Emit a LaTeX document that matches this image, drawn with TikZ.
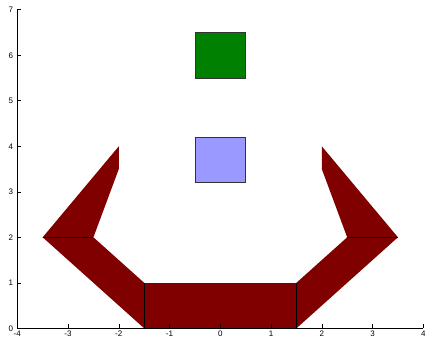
\documentclass[tikz,border=0pt]{standalone}
\usepackage{fontspec}
\setmainfont{Liberation Sans}
\definecolor{darkred}{rgb}{0.5,0,0}
\definecolor{mgreen}{rgb}{0,0.5,0}
\definecolor{mblue}{rgb}{0.6,0.6,1}
\tikzset{
  piece/.style={fill=darkred, draw=none},
  seam/.style={draw=black, line width=0.7pt},
  sq/.style={draw=black!80, line width=0.8pt},
  axisline/.style={draw=black, line width=0.8pt},
  tick/.style={draw=black, line width=0.6pt},
  ticklab/.style={font=\fontsize{8}{9}\selectfont, inner sep=0pt}
}
\begin{document}
\begin{tikzpicture}[x=1pt,y=1pt]
\useasboundingbox (0,0) rectangle (425,343);
\begin{scope}[shift={(220.3,14.7)}, x=50.75pt, y=45.5pt]
  % pieces
  \fill[piece] (-1.5,0) rectangle (1.5,1);
  \fill[piece] (-1.5,0) -- (-1.5,1) -- (-2.5,2) -- (-3.5,2) -- cycle;
  \fill[piece] (-3.5,2) -- (-2.5,2) -- (-2,3.5) -- (-2,4) -- cycle;
  \fill[piece] (1.5,0) -- (1.5,1) -- (2.5,2) -- (3.5,2) -- cycle;
  \fill[piece] (3.5,2) -- (2.5,2) -- (2,3.5) -- (2,4) -- cycle;
  \coordinate (la) at (-3.5,2); \coordinate (lb) at (-2.5,2);
  \coordinate (ra) at (3.5,2); \coordinate (rb) at (2.5,2);
  \coordinate (lc) at (-1.5,0); \coordinate (ld) at (-1.5,1);
  \coordinate (rc) at (1.5,0); \coordinate (rd) at (1.5,1);
  \draw[seam] (la) -- (lb);
  \draw[seam] (ra) -- (rb);
  \draw[seam] (lc) -- (ld);
  \draw[seam] (rc) -- (rd);
  % squares
  \draw[sq, fill=mgreen] (-0.5,5.5) rectangle (0.5,6.5);
  \draw[sq, fill=mblue] (-0.5,3.2) rectangle (0.5,4.2);
  % axes
  \coordinate (o) at (-4,0);
  \coordinate (yt) at (-4,7);
  \coordinate (xr) at (4,0);
  \draw[axisline] (yt) -- (o) -- (xr);
  \foreach \i in {-4,...,4} {
    \draw[tick] (\i,0) -- ++(0,4pt);
    \node[ticklab, anchor=north] (xl\i) at ([yshift=-2.5pt]\i,0) {\i};
  }
  \foreach \j in {0,...,7} {
    \draw[tick] (-4,\j) -- ++(4pt,0);
    \node[ticklab, anchor=east] (yl\j) at ([xshift=-4pt]-4,\j) {\j};
  }
\end{scope}
\end{tikzpicture}
\end{document}
